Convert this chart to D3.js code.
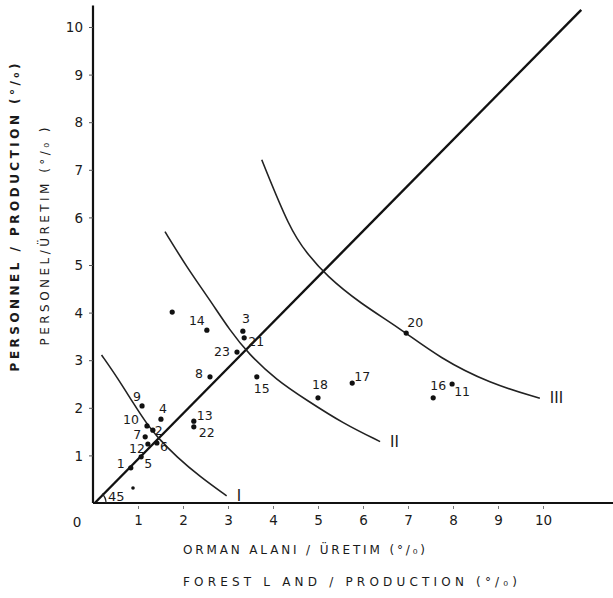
<!DOCTYPE html>
<html>
<head>
<meta charset="utf-8">
<script src="https://cdn.jsdelivr.net/npm/d3@7"></script>
<style>
  body { margin: 0; background: #fff; }
  svg text { font-family: "DejaVu Sans", sans-serif; fill: #1a1a1a; }
</style>
</head>
<body>
<svg id="chart" width="613" height="598"></svg>
<script>
// enterprise ids and their ratios (forest land / production, personnel / production)
const ids = ["1", "2", "3", "4", "5", "6", "7", "8", "9", "10", "11", "12", "13", "14",
             "15", "16", "17", "18", "", "20", "21", "22", "23"];
const forestLand = [0.84, 1.33, 3.33, 1.51, 1.07, 1.42, 1.16, 2.6, 1.09, 1.2, 7.98, 1.22, 2.24, 2.53,
                    3.64, 7.56, 5.76, 5.0, 1.76, 6.96, 3.36, 2.24, 3.2];
const personnel = [0.74, 1.53, 3.61, 1.76, 0.97, 1.26, 1.39, 2.65, 2.04, 1.62, 2.5, 1.24, 1.72, 3.63,
                   2.65, 2.21, 2.52, 2.21, 4.01, 3.57, 3.47, 1.6, 3.17];

// curves I, II, III
const curveI = [[0.19, 3.11], [0.53, 2.65], [0.9, 2.09], [1.19, 1.67], [1.45, 1.36],
                [1.86, 0.97], [2.38, 0.55], [2.97, 0.15]];
const curveII = [[1.6, 5.7], [2.08, 4.96], [2.6, 4.26], [3.04, 3.63], [3.45, 3.14],
                 [4.08, 2.58], [4.75, 2.16], [5.56, 1.67], [6.38, 1.29]];
const curveIII = [[3.75, 7.21], [4.38, 5.74], [4.75, 5.25], [5.19, 4.77], [5.93, 4.2],
                  [6.82, 3.67], [7.71, 3.04], [8.82, 2.51], [9.93, 2.2]];
const diagonal = [[0.04, 0], [10.85, 10.36]];

const xTicks = [1, 2, 3, 4, 5, 6, 7, 8, 9, 10];
const yTicks = [1, 2, 3, 4, 5, 6, 7, 8, 9, 10];

// label placement around each dot (pixels)
const labelOffset = {
  "1": [-10, -4], "2": [6, 0], "3": [3, -13], "4": [2, -11], "5": [7, 7], "6": [7, 4],
  "7": [-8, -2], "8": [-11, -3], "9": [-5, -9], "10": [-16, -6], "11": [10, 8],
  "12": [-11, 5], "13": [11, -6], "14": [-10, -10], "15": [5, 12], "16": [5, -12],
  "17": [10, -6], "18": [2, -13], "20": [9, -10], "21": [12, 4], "22": [13, 6], "23": [-15, 0]
};

const svg = d3.select("#chart");
const x = d3.scaleLinear().domain([0, 10]).range([93, 543]);
const y = d3.scaleLinear().domain([0, 10]).range([503, 27]);

// axes
svg.append("line")
  .attr("x1", x(0)).attr("x2", x(0)).attr("y1", y(0)).attr("y2", y(10.45))
  .attr("stroke", "#111").attr("stroke-width", 2.2);
svg.append("line")
  .attr("x1", x(0)).attr("x2", x(11.6)).attr("y1", y(0)).attr("y2", y(0))
  .attr("stroke", "#111").attr("stroke-width", 2.2);

const yAxis = svg.append("g").attr("transform", `translate(${x(0)},0)`)
  .call(d3.axisLeft(y).tickValues(yTicks).tickSize(4).tickFormat(d3.format("d")));
yAxis.select(".domain").remove();
yAxis.selectAll("text").attr("font-size", 13.5).attr("x", -10).attr("dy", "0.35em");
yAxis.selectAll("line").attr("stroke", "#555");

const xAxis = svg.append("g").attr("transform", `translate(0,${y(0)})`)
  .call(d3.axisBottom(x).tickValues(xTicks).tickSize(3).tickFormat(d3.format("d")));
xAxis.select(".domain").remove();
xAxis.selectAll("text").attr("font-size", 13.5).attr("y", 12);
xAxis.selectAll("line").attr("stroke", "#777").attr("transform", "translate(0,3)");

svg.append("text").attr("x", x(0) - 16).attr("y", y(0) + 24)
  .attr("text-anchor", "middle").attr("font-size", 13.5).text("0");

// titles
svg.append("text")
  .attr("transform", `translate(19,${y(6.0)}) rotate(-90)`)
  .attr("text-anchor", "middle").attr("font-size", 12).attr("font-weight", "bold")
  .attr("textLength", 308).attr("lengthAdjust", "spacing")
  .text("PERSONNEL / PRODUCTION (°/₀)");
svg.append("text")
  .attr("transform", `translate(49,${y(5.6)}) rotate(-90)`)
  .attr("text-anchor", "middle").attr("font-size", 12)
  .attr("textLength", 218).attr("lengthAdjust", "spacing")
  .text("PERSONEL/ÜRETIM (°/₀ )");
svg.append("text").attr("x", 183).attr("y", 554)
  .attr("font-size", 12).attr("textLength", 242).attr("lengthAdjust", "spacing")
  .text("ORMAN ALANI / ÜRETIM (°/₀)");
svg.append("text").attr("x", 183).attr("y", 586)
  .attr("font-size", 12).attr("textLength", 334).attr("lengthAdjust", "spacing")
  .text("FOREST  L AND / PRODUCTION (°/₀)");

// lines and curves
const line = d3.line().x(d => x(d[0])).y(d => y(d[1]));
const curve = d3.line().x(d => x(d[0])).y(d => y(d[1])).curve(d3.curveBasis);
svg.append("path").attr("d", line(diagonal))
  .attr("fill", "none").attr("stroke", "#111").attr("stroke-width", 2.4);
[[curveI, "I"], [curveII, "II"], [curveIII, "III"]].forEach(([pts, name]) => {
  svg.append("path").attr("d", curve(pts))
    .attr("fill", "none").attr("stroke", "#222").attr("stroke-width", 1.6);
  const last = pts[pts.length - 1];
  svg.append("text").attr("x", x(last[0]) + 10).attr("y", y(last[1]) + 5)
    .attr("font-family", "Liberation Serif, serif").attr("font-size", 15)
    .text(name);
});

// 45 degree mark
const arc = d3.arc().innerRadius(13).outerRadius(13).startAngle(Math.PI / 2).endAngle(Math.PI / 4);
svg.append("path").attr("d", arc()).attr("transform", `translate(${x(0)},${y(0)})`)
  .attr("fill", "none").attr("stroke", "#222").attr("stroke-width", 1.3);
svg.append("text").attr("x", x(0) + 15).attr("y", y(0) - 2)
  .attr("font-size", 13).text("45");
svg.append("circle").attr("cx", x(0) + 40).attr("cy", y(0) - 15).attr("r", 1.8).attr("fill", "#111");

// points
const pts = svg.append("g").selectAll("g").data(ids.map((id, i) => ({id, fx: forestLand[i], py: personnel[i]})))
  .join("g").attr("transform", d => `translate(${x(d.fx)},${y(d.py)})`);
pts.append("circle").attr("r", 2.6).attr("fill", "#111");
pts.append("text")
  .attr("x", d => (labelOffset[d.id] || [0, 0])[0])
  .attr("y", d => (labelOffset[d.id] || [0, 0])[1])
  .attr("dy", "0.35em").attr("text-anchor", "middle").attr("font-size", 12.5)
  .text(d => d.id);
</script>
</body>
</html>
